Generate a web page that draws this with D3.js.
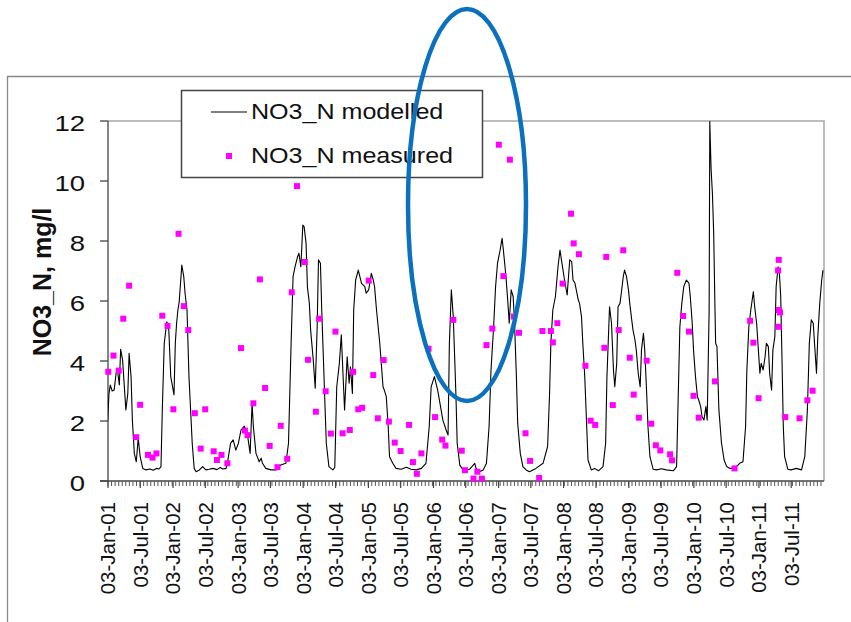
<!DOCTYPE html>
<html>
<head>
<meta charset="utf-8">
<script src="https://cdn.jsdelivr.net/npm/d3@7"></script>
<style>
  body { margin: 0; background: #fff; }
  svg { display: block; font-family: "Liberation Sans", Arial, sans-serif; }
</style>
</head>
<body>
<svg id="chart" width="851" height="622"></svg>
<script>
// values, x as decimal year
var modelledSeries = [
  [2001.00,1.98],[2001.02,2.9],[2001.04,3.2],[2001.07,3.0],[2001.10,3.03],[2001.13,3.59],[2001.15,3.7],
  [2001.18,3.2],[2001.20,4.39],[2001.23,4.03],[2001.26,3.03],[2001.28,2.37],[2001.31,2.92],[2001.33,4.26],
  [2001.36,3.48],[2001.38,2.03],[2001.41,0.92],[2001.44,0.64],[2001.47,1.42],[2001.50,0.81],[2001.54,0.42],
  [2001.59,0.37],[2001.65,0.4],[2001.70,0.36],[2001.75,0.42],[2001.79,0.4],[2001.82,0.48],[2001.84,2.37],
  [2001.87,4.59],[2001.91,5.31],[2001.94,5.03],[2001.97,3.48],[2002.02,2.87],[2002.04,4.59],[2002.06,5.26],
  [2002.08,5.7],[2002.10,5.98],[2002.14,7.2],[2002.17,6.81],[2002.19,6.26],[2002.22,5.7],[2002.25,3.48],
  [2002.30,1.26],[2002.33,0.42],[2002.36,0.31],[2002.41,0.37],[2002.46,0.48],[2002.51,0.37],[2002.56,0.39],
  [2002.62,0.42],[2002.68,0.38],[2002.73,0.45],[2002.77,0.4],[2002.82,0.42],[2002.84,0.59],[2002.89,1.26],
  [2002.93,1.37],[2002.97,1.03],[2003.01,1.26],[2003.05,1.7],[2003.10,1.83],[2003.12,1.7],[2003.15,1.53],
  [2003.19,0.92],[2003.22,2.59],[2003.24,1.81],[2003.28,0.92],[2003.33,0.64],[2003.36,0.76],[2003.38,0.59],
  [2003.43,0.42],[2003.51,0.37],[2003.59,0.37],[2003.66,0.53],[2003.74,0.59],[2003.78,1.26],[2003.82,4.59],
  [2003.85,6.81],[2003.88,7.14],[2003.92,7.48],[2003.94,7.59],[2003.97,7.14],[2004.00,8.53],[2004.02,8.48],
  [2004.05,7.92],[2004.07,6.48],[2004.10,5.92],[2004.12,5.03],[2004.16,4.03],[2004.19,3.09],[2004.22,5.14],
  [2004.24,7.37],[2004.27,7.26],[2004.29,5.7],[2004.33,3.14],[2004.36,1.26],[2004.40,0.48],[2004.46,0.37],
  [2004.49,0.45],[2004.52,3.14],[2004.56,3.92],[2004.59,4.87],[2004.64,2.37],[2004.68,4.14],[2004.71,3.26],
  [2004.73,3.81],[2004.76,2.92],[2004.78,5.7],[2004.81,6.7],[2004.85,7.03],[2004.90,6.59],[2004.95,6.48],
  [2004.97,6.26],[2005.01,6.37],[2005.05,6.92],[2005.08,6.7],[2005.10,6.48],[2005.13,5.7],[2005.18,4.59],
  [2005.23,3.14],[2005.25,3.03],[2005.28,2.81],[2005.31,1.81],[2005.33,0.81],[2005.38,0.59],[2005.43,0.42],
  [2005.51,0.39],[2005.59,0.46],[2005.66,0.39],[2005.74,0.37],[2005.82,0.42],[2005.89,0.59],[2005.94,1.81],
  [2005.97,3.14],[2006.02,3.48],[2006.07,3.03],[2006.15,2.03],[2006.20,1.7],[2006.23,1.53],[2006.25,4.59],
  [2006.28,6.37],[2006.31,5.48],[2006.35,2.92],[2006.37,1.26],[2006.41,0.53],[2006.46,0.37],[2006.56,0.39],
  [2006.64,0.59],[2006.66,0.42],[2006.71,0.31],[2006.77,0.37],[2006.82,0.59],[2006.86,1.81],[2006.89,3.7],
  [2006.93,5.14],[2006.96,6.48],[2006.99,7.26],[2007.03,7.7],[2007.06,8.09],[2007.08,7.7],[2007.12,6.81],
  [2007.15,5.92],[2007.17,5.26],[2007.20,6.37],[2007.23,6.15],[2007.25,5.37],[2007.28,3.48],[2007.30,1.92],
  [2007.34,0.92],[2007.38,0.48],[2007.43,0.37],[2007.48,0.31],[2007.58,0.42],[2007.69,0.59],[2007.76,1.15],
  [2007.79,2.92],[2007.81,4.59],[2007.84,5.7],[2007.88,6.15],[2007.92,7.15],[2007.95,7.7],[2007.98,7.26],
  [2008.02,6.7],[2008.06,6.2],[2008.10,7.37],[2008.13,7.31],[2008.15,6.7],[2008.18,6.59],[2008.20,6.37],
  [2008.23,6.04],[2008.25,5.92],[2008.28,5.48],[2008.30,4.59],[2008.33,3.48],[2008.36,1.81],[2008.38,0.7],
  [2008.43,0.37],[2008.48,0.42],[2008.54,0.34],[2008.61,0.48],[2008.65,1.26],[2008.67,3.48],[2008.71,5.81],
  [2008.74,5.26],[2008.77,3.7],[2008.79,3.14],[2008.82,3.92],[2008.84,5.81],[2008.87,5.92],[2008.89,6.26],
  [2008.92,6.81],[2008.94,7.03],[2008.97,6.81],[2009.00,6.37],[2009.02,5.92],[2009.05,5.37],[2009.07,5.03],
  [2009.10,4.7],[2009.12,4.37],[2009.15,3.59],[2009.18,3.14],[2009.20,4.37],[2009.23,4.92],[2009.25,4.37],
  [2009.28,2.92],[2009.30,1.81],[2009.33,0.81],[2009.38,0.39],[2009.43,0.37],[2009.51,0.41],[2009.58,0.37],
  [2009.69,0.34],[2009.74,0.48],[2009.76,2.37],[2009.79,5.14],[2009.82,5.92],[2009.85,6.48],[2009.89,6.7],
  [2009.93,6.59],[2009.95,6.15],[2009.98,5.26],[2010.00,4.37],[2010.03,3.48],[2010.06,2.81],[2010.08,2.7],
  [2010.11,2.48],[2010.13,2.15],[2010.16,2.03],[2010.19,2.48],[2010.21,2.03],[2010.24,5.7],[2010.25,11.98],
  [2010.27,10.4],[2010.29,9.6],[2010.31,8.26],[2010.33,5.7],[2010.34,4.59],[2010.36,4.48],[2010.39,2.37],
  [2010.43,1.26],[2010.47,0.7],[2010.51,0.48],[2010.56,0.42],[2010.63,0.42],[2010.71,0.59],[2010.76,0.64],
  [2010.80,1.81],[2010.82,3.7],[2010.85,5.14],[2010.88,5.7],[2010.92,6.31],[2010.94,5.81],[2010.97,5.26],
  [2010.99,4.59],[2011.02,3.59],[2011.04,3.92],[2011.07,3.7],[2011.10,4.15],[2011.12,4.59],[2011.15,4.48],
  [2011.17,3.59],[2011.20,3.03],[2011.22,4.37],[2011.25,4.81],[2011.27,6.48],[2011.30,7.14],[2011.32,6.92],
  [2011.34,6.15],[2011.36,4.04],[2011.38,1.81],[2011.40,0.81],[2011.45,0.39],[2011.50,0.37],[2011.58,0.42],
  [2011.66,0.37],[2011.71,0.81],[2011.75,2.37],[2011.78,4.59],[2011.81,5.37],[2011.84,5.26],[2011.86,4.59],
  [2011.89,3.59],[2011.91,4.81],[2011.94,5.92],[2011.97,6.7],[2011.99,7.03]
];

var measuredSeries = [
  [2001.01,3.64],[2001.09,4.18],[2001.17,3.68],[2001.24,5.41],[2001.33,6.51],[2001.44,1.46],[2001.50,2.54],
  [2001.62,0.87],[2001.69,0.78],[2001.75,0.92],[2001.84,5.51],[2001.92,5.17],[2002.01,2.39],[2002.09,8.24],
  [2002.17,5.83],[2002.24,5.03],[2002.34,2.26],[2002.43,1.08],[2002.50,2.39],[2002.63,0.99],[2002.68,0.7],
  [2002.75,0.87],[2002.84,0.59],[2003.05,4.43],[2003.11,1.68],[2003.15,1.53],[2003.24,2.59],[2003.34,6.72],
  [2003.42,3.1],[2003.49,1.17],[2003.61,0.46],[2003.66,1.84],[2003.76,0.74],[2003.83,6.29],[2003.91,9.83],
  [2004.03,7.3],[2004.08,4.04],[2004.20,2.31],[2004.25,5.41],[2004.35,2.99],[2004.43,1.58],[2004.50,4.98],
  [2004.61,1.59],[2004.72,1.7],[2004.77,3.64],[2004.85,2.39],[2004.91,2.44],[2005.01,6.68],[2005.08,3.53],
  [2005.15,2.09],[2005.24,4.03],[2005.32,1.98],[2005.41,1.28],[2005.50,1.0],[2005.63,1.87],[2005.69,0.63],
  [2005.75,0.24],[2005.82,0.92],[2005.93,4.41],[2006.03,2.13],[2006.14,1.38],[2006.19,1.18],[2006.31,5.37],
  [2006.44,1.01],[2006.49,0.36],[2006.62,0.08],[2006.68,0.31],[2006.75,0.08],[2006.82,4.53],[2006.91,5.08],
  [2007.01,11.21],[2007.08,6.83],[2007.18,10.71],[2007.24,5.48],[2007.32,4.94],[2007.42,1.59],[2007.49,0.67],
  [2007.63,0.1],[2007.68,5.0],[2007.81,5.0],[2007.84,4.62],[2007.91,5.26],[2007.99,6.58],[2008.12,8.91],
  [2008.16,7.92],[2008.24,7.56],[2008.34,3.84],[2008.42,2.01],[2008.49,1.87],[2008.63,4.44],[2008.66,7.47],
  [2008.76,2.53],[2008.85,5.03],[2008.92,7.69],[2009.02,4.11],[2009.08,2.88],[2009.16,2.11],[2009.28,4.01],
  [2009.35,1.91],[2009.42,1.19],[2009.49,1.02],[2009.64,0.89],[2009.67,0.69],[2009.75,6.94],[2009.84,5.5],
  [2009.93,4.98],[2010.00,2.84],[2010.08,2.11],[2010.33,3.32],[2010.63,0.42],[2010.87,5.34],[2010.92,4.61],
  [2011.00,2.76],[2011.30,7.02],[2011.31,7.37],[2011.31,5.7],[2011.33,5.62],[2011.31,5.14],[2011.41,2.13],
  [2011.63,2.09],[2011.75,2.69],[2011.83,3.01]
];

var yTicks = [0, 2, 4, 6, 8, 10, 12];
var xLabelDates = [
  "2001-01-03","2001-07-03","2002-01-03","2002-07-03","2003-01-03","2003-07-03",
  "2004-01-03","2004-07-03","2005-01-03","2005-07-03","2006-01-03","2006-07-03",
  "2007-01-03","2007-07-03","2008-01-03","2008-07-03","2009-01-03","2009-07-03",
  "2010-01-03","2010-07-03","2011-01-03","2011-07-03"
];
var seriesNames = ["NO3_N modelled", "NO3_N measured"];
var yTitle = "NO3_N, mg/l";

function yearToDate(y){
    var yr = Math.floor(y);
    var a = new Date(yr, 0, 1), b = new Date(yr + 1, 0, 1);
    return new Date(+a + (y - yr) * (b - a));
}
var parse = d3.timeParse("%Y-%m-%d");
var fmt = d3.timeFormat("%d-%b-%y");

var plotLeft = 108, plotRight = 824, plotTop = 121, plotBottom = 481;
var svg = d3.select("#chart");

var x = d3.scaleTime()
    .domain([parse("2001-01-03"), parse("2012-01-03")])
    .range([plotLeft, plotRight]);
var y = d3.scaleLinear().domain([0, 12]).range([plotBottom, plotTop]);

// outer chart frame
svg.append("path")
    .attr("d", "M7.5,622V76.5H851")
    .attr("fill", "none").attr("stroke", "#888").attr("stroke-width", 1.3);

// plot area border (top, right)
svg.append("path")
    .attr("d", "M" + plotLeft + "," + plotTop + "H" + plotRight + "V" + plotBottom)
    .attr("fill", "none").attr("stroke", "#a8a8a8").attr("stroke-width", 1.5);

// y axis
var yAxis = svg.append("g");
yAxis.append("line")
    .attr("x1", plotLeft).attr("x2", plotLeft).attr("y1", plotTop).attr("y2", plotBottom)
    .attr("stroke", "#444").attr("stroke-width", 1.3);
yAxis.selectAll(".yt").data(yTicks).enter().append("line")
    .attr("x1", plotLeft - 8).attr("x2", plotLeft)
    .attr("y1", function(d){ return y(d); }).attr("y2", function(d){ return y(d); })
    .attr("stroke", "#444").attr("stroke-width", 1.3);
yAxis.selectAll(".yl").data(yTicks).enter().append("text")
    .attr("transform", function(d){ return "translate(85," + y(d) + ") scale(1.25,1)"; })
    .attr("dy", "0.45em")
    .attr("text-anchor", "end")
    .attr("font-size", 22)
    .attr("fill", "#111")
    .text(function(d){ return d; });

svg.append("text")
    .attr("transform", "translate(51,282) rotate(-90)")
    .attr("text-anchor", "middle")
    .attr("font-size", 25)
    .attr("font-weight", "bold")
    .attr("fill", "#111")
    .text(yTitle);

// x axis
var xAxis = svg.append("g");
xAxis.append("line")
    .attr("x1", plotLeft - 8).attr("x2", plotRight).attr("y1", plotBottom).attr("y2", plotBottom)
    .attr("stroke", "#444").attr("stroke-width", 1.3);
var minorTicks = d3.range(0, 11 * 365 / 20).map(function(i){
    return d3.timeDay.offset(parse("2001-01-03"), i * 20);
});
xAxis.selectAll(".mt").data(minorTicks).enter().append("line")
    .attr("x1", function(d){ return x(d); }).attr("x2", function(d){ return x(d); })
    .attr("y1", plotBottom).attr("y2", plotBottom + 5)
    .attr("stroke", "#555").attr("stroke-width", 1);
var labelDates = xLabelDates.map(parse);
xAxis.selectAll(".Mt").data(labelDates).enter().append("line")
    .attr("x1", function(d){ return x(d); }).attr("x2", function(d){ return x(d); })
    .attr("y1", plotBottom).attr("y2", plotBottom + 7)
    .attr("stroke", "#444").attr("stroke-width", 1.2);
xAxis.selectAll(".xl").data(labelDates).enter().append("text")
    .attr("transform", function(d){ return "translate(" + x(d) + ",502) rotate(-90)"; })
    .attr("dy", "0.36em")
    .attr("text-anchor", "end")
    .attr("font-size", 20.5)
    .attr("fill", "#111")
    .text(function(d){ return fmt(d); });

// modelled line
svg.append("clipPath").attr("id", "plotclip").append("rect")
    .attr("x", plotLeft).attr("y", plotTop - 1).attr("width", plotRight - plotLeft).attr("height", plotBottom - plotTop + 1);
var line = d3.line()
    .x(function(d){ return x(yearToDate(d[0])); })
    .y(function(d){ return y(d[1]); });
svg.append("path")
    .datum(modelledSeries)
    .attr("clip-path", "url(#plotclip)")
    .attr("d", line)
    .attr("fill", "none")
    .attr("stroke", "#000")
    .attr("stroke-width", 1.1)
    .attr("stroke-linejoin", "round");

// measured points
svg.selectAll(".pt").data(measuredSeries).enter().append("rect")
    .attr("x", function(d){ return x(yearToDate(d[0])) - 3; })
    .attr("y", function(d){ return y(d[1]) - 3; })
    .attr("width", 6).attr("height", 6)
    .attr("fill", "#ff00ff");

// legend
var lg = svg.append("g");
lg.append("rect")
    .attr("x", 181.5).attr("y", 90.5).attr("width", 301).attr("height", 87)
    .attr("fill", "#fff").attr("stroke", "#444").attr("stroke-width", 1.5);
lg.append("line")
    .attr("x1", 211).attr("x2", 247).attr("y1", 112).attr("y2", 112)
    .attr("stroke", "#000").attr("stroke-width", 1.1);
lg.append("rect")
    .attr("x", 226).attr("y", 153).attr("width", 6).attr("height", 6)
    .attr("fill", "#ff00ff");
lg.selectAll(".lt").data(seriesNames).enter().append("text")
    .attr("transform", function(d, i){ return "translate(251," + (118.5 + i * 44) + ") scale(1.14,1)"; })
    .attr("font-size", 22)
    .attr("fill", "#111")
    .text(function(d){ return d; });

// highlight ellipse
svg.append("ellipse")
    .attr("cx", 467).attr("cy", 205).attr("rx", 59).attr("ry", 196)
    .attr("fill", "none")
    .attr("stroke", "#0b70be")
    .attr("stroke-width", 4.5);
</script>
</body>
</html>
